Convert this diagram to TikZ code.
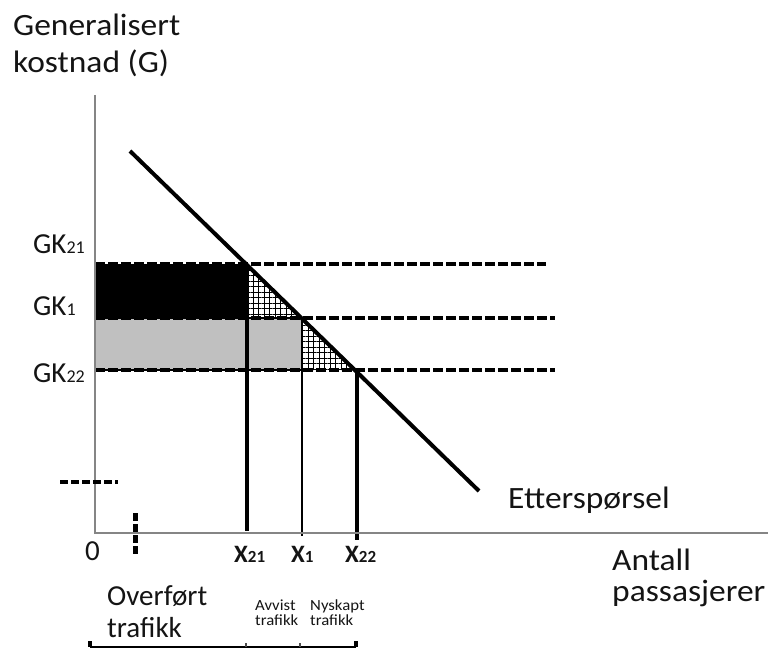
\documentclass[tikz,border=0pt]{standalone}
\usepackage{fontspec}
\setmainfont{Carlito}
\newfontfamily\widefont{Carlito}[FakeStretch=1.08]
\usetikzlibrary{patterns.meta}
\definecolor{txt}{HTML}{141414}
\definecolor{axisgray}{HTML}{858585}
\definecolor{fillgray}{HTML}{C0C0C0}
\newcommand{\bigfnt}{\fontsize{29}{34}\selectfont}
\newcommand{\widefnt}{\widefont\fontsize{31}{34}\selectfont}
\newcommand{\subd}[1]{{\fontsize{18}{20}\selectfont #1}}
\newcommand{\subx}[1]{{\fontsize{17}{20}\selectfont\bfseries #1}}
\newcommand{\tinyfnt}{\widefont\fontsize{15.5}{16}\selectfont}
\begin{document}
\begin{tikzpicture}[x=1pt,y=-1pt,
  lbl/.style={anchor=base west, inner sep=0pt, text=txt, font=\bigfnt},
  wlbl/.style={anchor=base west, inner sep=0pt, text=txt, font=\widefnt},
  xlbl/.style={anchor=base west, inner sep=0pt, text=txt, font=\fontsize{25}{28}\selectfont\bfseries},
  small/.style={anchor=base west, inner sep=0pt, text=txt, font=\tinyfnt},
  axis/.style={draw=axisgray, line width=2.6pt},
  level/.style={draw=black, line width=3.8pt, dash pattern=on 10pt off 3pt},
  vline/.style={draw=black, line width=3.4pt},
  hatchfill/.style={pattern={Hatch[distance=5.5pt,angle=0,line width=1pt]}, pattern color=black}]
\useasboundingbox (0,0) rectangle (768,650);

% key coordinates
\coordinate (O) at (95,533);
\coordinate (Ytop) at (95,95);
\coordinate (Xend) at (768,533);
\coordinate (D1) at (130,151);
\coordinate (D2) at (479,491);
\coordinate (A) at (247,264);
\coordinate (B) at (302,318);
\coordinate (C) at (357,370);
\coordinate (YA) at (95,264);
\coordinate (YB) at (95,318);
\coordinate (YC) at (95,370);
\coordinate (AB) at (247,318);
\coordinate (BC) at (302,370);
\coordinate (LA) at (546,264);
\coordinate (LB) at (555,318);
\coordinate (LC) at (555,370);
\coordinate (xa) at (247,531);
\coordinate (xb) at (302,536);
\coordinate (xc) at (357,540);

% areas
\fill[black] (YA) rectangle (AB);
\fill[fillgray] (YB) rectangle (BC);
\draw[black, line width=2pt] (YB) -- (B) -- (BC) -- (YC);
\fill[hatchfill] (A) -- (B) -- (AB) -- cycle;
\fill[hatchfill] (B) -- (C) -- (BC) -- cycle;

% price levels
\draw[level] (YA) -- (LA);
\draw[level] (YB) -- (LB);
\draw[level] (YC) -- (LC);

% quantity lines
\draw[vline] (A) -- (xa);
\draw[black, line width=2.2pt] (B) -- (xb);
\draw[vline] (C) -- (xc);

% axes
\draw[axis] (Ytop) -- (O) -- (Xend);

% demand curve
\draw[black, line width=4pt] (D1) -- (D2);

% small dashed marks
\coordinate (h1) at (60,482);
\coordinate (h2) at (118,482);
\draw[black, line width=4.5pt, dash pattern=on 8pt off 3pt] (h1) -- (h2);
\coordinate (v1) at (135,513);
\coordinate (v2) at (135,556);
\draw[black, line width=5pt, dash pattern=on 8pt off 3pt] (v1) -- (v2);

% bottom bracket
\coordinate (b1) at (90,647);
\coordinate (b2) at (356,647);
\coordinate (b1t) at (90,641);
\coordinate (b2t) at (356,641);
\coordinate (bm1) at (246,647);
\coordinate (bm1t) at (246,643);
\coordinate (bm2) at (300,647);
\coordinate (bm2t) at (300,643);
\draw[black, line width=2.6pt] (b1) -- (b2);
\draw[black, line width=3.5pt] (b1t) -- (b1) (b2t) -- (b2);
\draw[black!70, line width=1.2pt] (bm1t) -- (bm1) (bm2t) -- (bm2);

% labels
\node[wlbl] (ylab1) at (13,36) {Generalisert};
\node[wlbl] (ylab2) at (13,73) {kostnad (G)};
\node[lbl] (gk21) at (33,253) {GK\subd{21}};
\node[lbl] (gk1) at (33,315) {GK\subd{1}};
\node[lbl] (gk22) at (33,382) {GK\subd{22}};
\node[lbl] (zero) at (85,560) {0};
\node[xlbl] (x21) at (234,562) {X\subx{21}};
\node[xlbl] (x1) at (291,562) {X\subx{1}};
\node[xlbl] (x22) at (345,562) {X\subx{22}};
\node[wlbl] (dem) at (508,508) {Etterspørsel};
\node[wlbl] (ant1) at (612,570) {Antall};
\node[wlbl] (ant2) at (612,601) {passasjerer};
\node[lbl] (ov1) at (107,605) {Overført};
\node[lbl] (ov2) at (107,637) {trafikk};
\node[small] (av1) at (255,610) {Avvist};
\node[small] (av2) at (255,625) {trafikk};
\node[small] (ny1) at (310,610) {Nyskapt};
\node[small] (ny2) at (310,625) {trafikk};
\end{tikzpicture}
\end{document}
